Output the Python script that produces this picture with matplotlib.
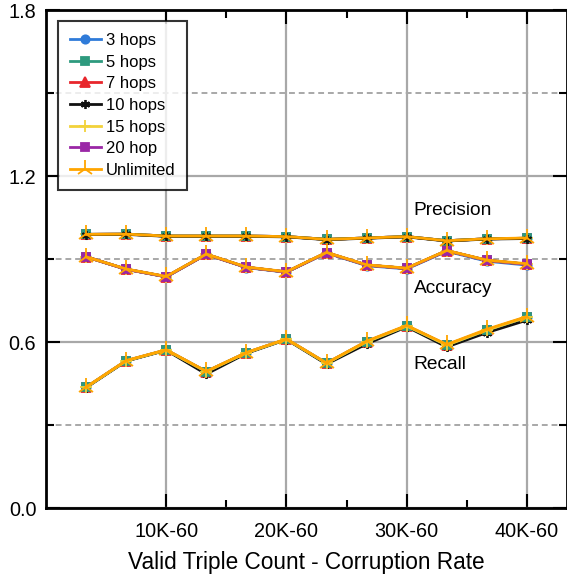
import matplotlib
matplotlib.use("Agg")
import matplotlib.pyplot as plt
from matplotlib.ticker import MultipleLocator, FixedLocator

plt.rcParams['font.family'] = ['Liberation Sans', 'DejaVu Sans']

# ---- data ----
x_pos = [1, 2, 3, 4, 5, 6, 7, 8, 9, 10, 11, 12]
tick_pos = [3, 6, 9, 12]
tick_labels = ["10K-60", "20K-60", "30K-60", "40K-60"]
series_names = ["3 hops", "5 hops", "7 hops", "10 hops", "15 hops", "20 hop", "Unlimited"]

precision_3 = [0.989, 0.990, 0.983, 0.983, 0.983, 0.981, 0.971, 0.976, 0.981, 0.966, 0.973, 0.975]
precision_5 = [0.989, 0.990, 0.983, 0.983, 0.983, 0.981, 0.971, 0.976, 0.981, 0.966, 0.973, 0.975]
precision_7 = [0.989, 0.990, 0.983, 0.983, 0.983, 0.981, 0.971, 0.976, 0.981, 0.966, 0.973, 0.975]
precision_10 = [0.988, 0.989, 0.982, 0.982, 0.982, 0.980, 0.970, 0.975, 0.980, 0.965, 0.972, 0.974]
precision_15 = [0.989, 0.990, 0.983, 0.983, 0.983, 0.981, 0.971, 0.976, 0.981, 0.966, 0.973, 0.975]
precision_20 = [0.989, 0.990, 0.983, 0.983, 0.983, 0.981, 0.971, 0.976, 0.981, 0.966, 0.973, 0.975]
precision_unl = [0.989, 0.990, 0.983, 0.983, 0.983, 0.981, 0.971, 0.976, 0.981, 0.966, 0.973, 0.976]

accuracy_3 = [0.908, 0.863, 0.835, 0.917, 0.869, 0.852, 0.922, 0.876, 0.864, 0.928, 0.892, 0.878]
accuracy_5 = [0.908, 0.863, 0.836, 0.917, 0.870, 0.853, 0.923, 0.878, 0.866, 0.930, 0.895, 0.881]
accuracy_7 = [0.908, 0.863, 0.836, 0.917, 0.870, 0.853, 0.923, 0.878, 0.866, 0.930, 0.895, 0.881]
accuracy_10 = [0.908, 0.863, 0.836, 0.917, 0.870, 0.853, 0.923, 0.878, 0.866, 0.930, 0.895, 0.881]
accuracy_15 = [0.908, 0.863, 0.836, 0.917, 0.870, 0.853, 0.923, 0.878, 0.866, 0.930, 0.895, 0.881]
accuracy_20 = [0.908, 0.863, 0.836, 0.917, 0.870, 0.853, 0.923, 0.878, 0.866, 0.930, 0.895, 0.881]
accuracy_unl = [0.908, 0.864, 0.837, 0.918, 0.871, 0.854, 0.924, 0.879, 0.867, 0.931, 0.896, 0.883]

recall_3 = [0.436, 0.532, 0.571, 0.493, 0.561, 0.610, 0.523, 0.601, 0.658, 0.589, 0.643, 0.690]
recall_5 = [0.436, 0.532, 0.571, 0.493, 0.561, 0.610, 0.523, 0.601, 0.658, 0.589, 0.643, 0.690]
recall_7 = [0.436, 0.532, 0.571, 0.493, 0.561, 0.610, 0.523, 0.601, 0.658, 0.589, 0.643, 0.690]
recall_10 = [0.435, 0.531, 0.570, 0.484, 0.559, 0.609, 0.520, 0.593, 0.655, 0.582, 0.634, 0.679]
recall_15 = [0.436, 0.532, 0.571, 0.493, 0.561, 0.610, 0.523, 0.601, 0.658, 0.589, 0.643, 0.690]
recall_20 = [0.436, 0.532, 0.571, 0.493, 0.561, 0.610, 0.523, 0.601, 0.658, 0.589, 0.643, 0.690]
recall_unl = [0.437, 0.533, 0.572, 0.494, 0.562, 0.611, 0.524, 0.603, 0.660, 0.591, 0.646, 0.692]

# ---- styles ----
styles = {
    "3 hops": dict(color="#2f7bd9", marker="o", ms=6, mfc="#2f7bd9"),
    "5 hops": dict(color="#2e9a7e", marker="s", ms=6, mfc="#2e9a7e"),
    "7 hops": dict(color="#e8262c", marker="^", ms=6.5, mfc="#e8262c"),
    "10 hops": dict(color="#111111", marker=(6, 2, 0), ms=6.5, mfc="#111111"),
    "15 hops": dict(color="#f2d23a", marker="+", ms=9, mfc="#f2d23a"),
    "20 hop": dict(color="#9a27a6", marker="s", ms=6, mfc="#9a27a6"),
    "Unlimited": dict(color="#ffa500", marker="2", ms=13, mfc="#ffa500"),
}

metrics = {
    "precision": {"3 hops": precision_3, "5 hops": precision_5, "7 hops": precision_7,
                  "10 hops": precision_10, "15 hops": precision_15, "20 hop": precision_20,
                  "Unlimited": precision_unl},
    "accuracy": {"3 hops": accuracy_3, "5 hops": accuracy_5, "7 hops": accuracy_7,
                 "10 hops": accuracy_10, "15 hops": accuracy_15, "20 hop": accuracy_20,
                 "Unlimited": accuracy_unl},
    "recall": {"3 hops": recall_3, "5 hops": recall_5, "7 hops": recall_7,
               "10 hops": recall_10, "15 hops": recall_15, "20 hop": recall_20,
               "Unlimited": recall_unl},
}
draw_order = {
    "precision": ["20 hop", "3 hops", "7 hops", "15 hops", "5 hops", "10 hops", "Unlimited"],
    "accuracy": ["3 hops", "5 hops", "7 hops", "10 hops", "15 hops", "20 hop", "Unlimited"],
    "recall": ["3 hops", "20 hop", "7 hops", "10 hops", "5 hops", "15 hops", "Unlimited"],
}

fig = plt.figure(figsize=(5.67, 5.83), dpi=100)
ax = fig.add_axes([46 / 567, 75 / 583, 521 / 567, 498 / 583])

handles = {}
for m, data in metrics.items():
    for z, name in enumerate(draw_order[m]):
        st = styles[name]
        ln, = ax.plot(x_pos, data[name], color=st["color"], marker=st["marker"],
                      markersize=st["ms"], markerfacecolor=st["mfc"],
                      markeredgecolor=st["color"], markeredgewidth=1.3,
                      linewidth=2.0, zorder=3 + z, clip_on=False)
        handles[name] = ln

ax.set_xlim(0, 13)
ax.set_ylim(0, 1.8)
ax.xaxis.set_major_locator(FixedLocator(tick_pos))
ax.set_xticklabels(tick_labels)
ax.xaxis.set_minor_locator(FixedLocator([4.5, 7.5, 10.5]))
ax.yaxis.set_major_locator(MultipleLocator(0.6))
ax.yaxis.set_minor_locator(MultipleLocator(0.3))
ax.yaxis.set_major_formatter(matplotlib.ticker.FormatStrFormatter("%.1f"))

ax.grid(True, which="major", color="#a8a8a8", linewidth=1.6, linestyle="-", zorder=0)
ax.grid(True, which="minor", axis="y", color="#a8a8a8", linewidth=1.4,
        linestyle=(0, (3, 2)), zorder=0)
ax.set_axisbelow(True)

ax.tick_params(which="major", direction="in", length=10, width=1.5, top=True, right=True,
               labelsize=14.3, color="black")
ax.tick_params(which="minor", direction="in", length=6, width=1.5, top=True, right=True)
ax.tick_params(axis="x", pad=10)
ax.tick_params(axis="y", pad=7)
for s in ax.spines.values():
    s.set_linewidth(2)
    s.set_color("black")

ax.set_xlabel("Valid Triple Count - Corruption Rate", fontsize=16.3, labelpad=7)

ax.text(9.17, 1.077, "Precision", fontsize=13.8, va="center", ha="left")
ax.text(9.17, 0.795, "Accuracy", fontsize=13.8, va="center", ha="left")
ax.text(9.17, 0.517, "Recall", fontsize=13.8, va="center", ha="left")

leg = ax.legend([handles[n] for n in series_names], series_names, loc="upper left",
                bbox_to_anchor=(0.023, 0.978), fontsize=12, frameon=True, fancybox=False,
                handlelength=1.85, handletextpad=0.3, labelspacing=0.4, borderpad=0.72,
                borderaxespad=0)
leg.get_frame().set_edgecolor("black")
leg.get_frame().set_linewidth(1.5)
leg.set_zorder(20)

fig.savefig("out.png", dpi=100)
